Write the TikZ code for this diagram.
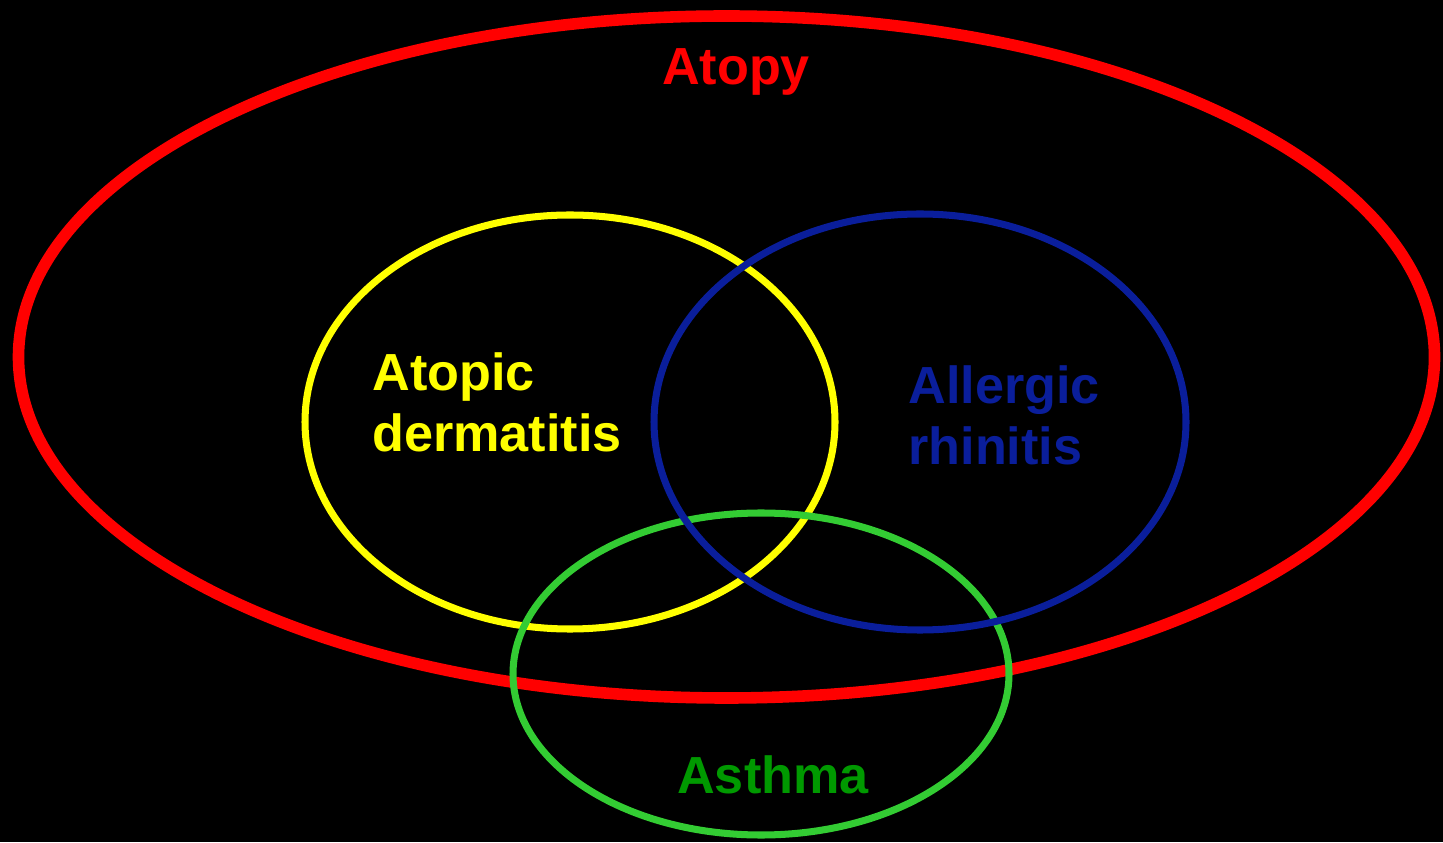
\documentclass[tikz,border=0pt]{standalone}
\usepackage{fontspec}
\setmainfont{Liberation Sans}
\definecolor{atopyred}{HTML}{FF0000}
\definecolor{adyellow}{HTML}{FFFF00}
\definecolor{arblue}{HTML}{0A1E9B}
\definecolor{astroke}{HTML}{33CC33}
\definecolor{astext}{HTML}{009900}
\tikzset{
    setline/.style={line width=4pt},
    setlabel/.style={font=\fontsize{29.7}{35.2}\selectfont\bfseries, inner sep=0pt, align=left},
}
\begin{document}
\begin{tikzpicture}[x=0.02cm,y=0.02cm]
    \fill[black] (0,0) rectangle (1443,842);
    \useasboundingbox (0,0) rectangle (1443,842);

    \draw[atopyred, line width=6.6pt] (726.5,485) ellipse [x radius=708, y radius=341];
    \draw[adyellow, setline] (570,420) ellipse [x radius=265, y radius=207];
    \draw[astroke, setline] (761,168) ellipse [x radius=248, y radius=161];
    \draw[arblue, setline] (920,420) ellipse [x radius=266, y radius=208];

    \node[setlabel, text=atopyred, anchor=base] (atopy) at (736,757) {Atopy};
    \node[setlabel, text=adyellow, anchor=base west] (dermatitis) at (372,390) {Atopic\\dermatitis};
    \node[setlabel, text=arblue, anchor=base west] (rhinitis) at (908,377) {Allergic\\rhinitis};
    \node[setlabel, text=astext, anchor=base] (asthma) at (773,49) {Asthma};
\end{tikzpicture}
\end{document}
